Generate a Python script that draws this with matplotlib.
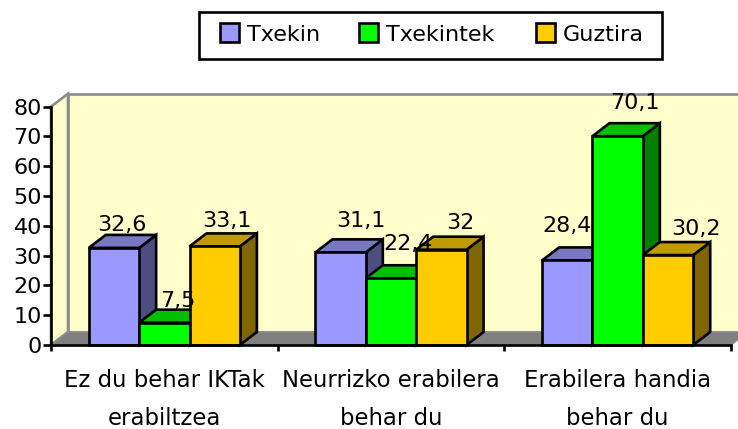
import matplotlib
matplotlib.use("Agg")
import matplotlib.pyplot as plt
from matplotlib.patches import Polygon, Rectangle

# ===== DATA =====
categories = ["Ez du behar IKTak\nerabiltzea", "Neurrizko erabilera\nbehar du", "Erabilera handia\nbehar du"]
series_names = ["Txekin", "Txekintek", "Guztira"]
txekin = [32.6, 31.1, 28.4]
txekintek = [7.5, 22.4, 70.1]
guztira = [33.1, 32, 30.2]
series_values = [txekin, txekintek, guztira]
yticks = [0, 10, 20, 30, 40, 50, 60, 70, 80]

# ===== STYLE =====
front_colors = ["#9999FF", "#00FF00", "#FFCC00"]
top_colors = ["#7878C0", "#00C000", "#C09A00"]
side_colors = ["#4D4D80", "#008000", "#806600"]
font_size = 16
cat_font_size = 16.4
edge_lw = 1.9

W, H = 738, 429
x0, x1, y0, y1 = 51, 731, 345, 106.7

# label nudges in pixels (dx from bar centre, dy above the back of the bar top)
label_dx = [[8, 20, 0], [13, 17, 17], [12, 19, 28]]
label_dy = [[4, 12, 15], [3, 15, 14], [6, 8, 7]]

fig = plt.figure(figsize=(W / 100, H / 100), dpi=100)
ax = fig.add_axes([x0 / W, 1 - y0 / H, (x1 - x0) / W, (y0 - y1) / H])
ax.set_xlim(0, 3)
ax.set_ylim(0, 80)
ax.patch.set_visible(False)

px_x = 3 / (x1 - x0)
px_y = 80 / (y0 - y1)
dx = 17 * px_x
dy = 13 * px_y
bar_w = 1 / 4.5
gap = 0.75 * bar_w

# ===== WALLS =====
top = 80
ax.add_patch(Polygon([(dx, dy), (3 + dx, dy), (3 + dx, top + dy), (dx, top + dy)],
                     fc="#FFFFCC", ec="#8C8C8C", lw=edge_lw, clip_on=False, zorder=1))
ax.add_patch(Polygon([(0, 0), (dx, dy), (dx, top + dy), (0, top)],
                     fc="#FFFFCC", ec="#8C8C8C", lw=edge_lw, clip_on=False, zorder=1))
ax.add_patch(Polygon([(0, 0), (dx, dy), (3 + dx, dy), (3, 0)],
                     fc="#808080", ec="#8C8C8C", lw=1, clip_on=False, zorder=1.5))

# ===== BARS =====
z = 2
for g in range(len(categories)):
    for s in range(len(series_names)):
        v = series_values[s][g]
        left = g + gap + s * bar_w
        right = left + bar_w
        ax.add_patch(Polygon([(right, 0), (right + dx, dy), (right + dx, v + dy), (right, v)],
                             fc=side_colors[s], ec="black", lw=edge_lw, clip_on=False, zorder=z))
        ax.add_patch(Polygon([(left, v), (left + dx, v + dy), (right + dx, v + dy), (right, v)],
                             fc=top_colors[s], ec="black", lw=edge_lw, clip_on=False, zorder=z))
        ax.add_patch(Polygon([(left, 0), (right, 0), (right, v), (left, v)],
                             fc=front_colors[s], ec="black", lw=edge_lw, clip_on=False, zorder=z))
        z += 1

# ===== LABELS =====
for g in range(len(categories)):
    for s in range(len(series_names)):
        v = series_values[s][g]
        cx = g + gap + (s + 0.5) * bar_w + label_dx[s][g] * px_x
        ax.text(cx, v + dy + label_dy[s][g] * px_y, str(v).replace(".", ","),
                ha="center", va="baseline", fontsize=font_size, color="black", zorder=50, clip_on=False)

# ===== AXES =====
for side in ["top", "right"]:
    ax.spines[side].set_visible(False)
for side in ["left", "bottom"]:
    ax.spines[side].set_linewidth(edge_lw)
    ax.spines[side].set_zorder(40)
ax.set_yticks(yticks)
ax.tick_params(axis="y", labelsize=font_size, length=5.5, width=edge_lw, pad=1)
ax.set_xticks([0, 1, 2, 3])
ax.set_xticklabels([])
ax.tick_params(axis="x", length=4.5, width=edge_lw)

for g, cat in enumerate(categories):
    line1, line2 = cat.split("\n")
    ax.text(g + 0.5, -(387 - y0) * px_y, line1, ha="center", va="baseline", fontsize=cat_font_size, clip_on=False)
    ax.text(g + 0.5, -(425 - y0) * px_y, line2, ha="center", va="baseline", fontsize=cat_font_size, clip_on=False)

# ===== LEGEND =====
def fx(px):
    return px / W

def fy(px):
    return 1 - px / H

fig.add_artist(Rectangle((fx(199), fy(59)), 463 / W, 47 / H, transform=fig.transFigure,
                         fc="white", ec="black", lw=edge_lw))
swatch_x = [220, 359, 536]
for name, color, sx in zip(series_names, front_colors, swatch_x):
    fig.add_artist(Rectangle((fx(sx), fy(42)), 19 / W, 19 / H, transform=fig.transFigure,
                             fc=color, ec="black", lw=edge_lw))
    fig.text(fx(sx + 27), fy(41), name, ha="left", va="baseline", fontsize=font_size)

fig.savefig("out.png", dpi=100)
